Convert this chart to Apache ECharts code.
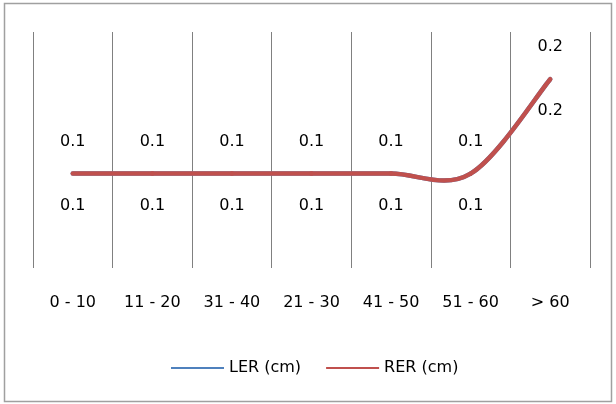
<!DOCTYPE html>
<html>
<head>
<meta charset="utf-8">
<script src="https://cdn.jsdelivr.net/npm/echarts@6/dist/echarts.min.js"></script>
<style>
html,body{margin:0;padding:0;background:#fff;}
#chart{width:616px;height:404px;}
</style>
</head>
<body>
<div id="chart"></div>
<script>
const categories = ['0 - 10', '11 - 20', '31 - 40', '21 - 30', '41 - 50', '51 - 60', '> 60'];
const lerValues = [0.1, 0.1, 0.1, 0.1, 0.1, 0.1, 0.2];
const rerValues = [0.1, 0.1, 0.1, 0.1, 0.1, 0.1, 0.2];
const seriesNames = ['LER (cm)', 'RER (cm)'];
const seriesColors = ['#4F81BD', '#C0504D'];

const font = 'DejaVu Sans';
const chart = echarts.init(document.getElementById('chart'), null, {renderer: 'canvas'});

const labelStyle = {
  show: true,
  fontFamily: font,
  fontSize: 16,
  color: '#000',
  distance: 24,
  formatter: p => p.value.toFixed(1)
};

// Excel-style smoothed curve (Catmull-Rom -> cubic Bezier), drawn through the axes' scales
function smoothRenderer(values, color) {
  return function (params, api) {
    const i = params.dataIndex;
    const n = values.length;
    if (i >= n - 1) return null;
    const pt = k => {
      const j = Math.max(0, Math.min(n - 1, k));
      return api.coord([j, values[j]]);
    };
    const p0 = pt(i - 1), p1 = pt(i), p2 = pt(i + 1), p3 = pt(i + 2);
    return {
      type: 'bezierCurve',
      shape: {
        x1: p1[0], y1: p1[1],
        cpx1: p1[0] + (p2[0] - p0[0]) / 6, cpy1: p1[1] + (p2[1] - p0[1]) / 6,
        cpx2: p2[0] - (p3[0] - p1[0]) / 6, cpy2: p2[1] - (p3[1] - p1[1]) / 6,
        x2: p2[0], y2: p2[1]
      },
      style: {fill: null, stroke: color, lineWidth: 4.5, lineCap: 'round'}
    };
  };
}

function labelSeries(name, values, color, pos) {
  return {
    name: name,
    type: 'line',
    data: values,
    symbol: 'circle',
    symbolSize: 0,
    color: color,
    itemStyle: {color: color},
    lineStyle: {opacity: 0},
    label: Object.assign({position: pos}, labelStyle),
    z: 5
  };
}

function curveSeries(name, values, color, z) {
  return {
    name: name,
    type: 'custom',
    color: color,
    itemStyle: {color: color},
    data: values.map((v, i) => [i, v]),
    renderItem: smoothRenderer(values, color),
    silent: true,
    z: z
  };
}

chart.setOption({
  animation: false,
  backgroundColor: '#fff',
  graphic: [{
    type: 'rect',
    shape: {x: 4.5, y: 3.5, width: 607, height: 398},
    style: {fill: 'none', stroke: '#a0a0a0', lineWidth: 1.5},
    silent: true,
    z: -1
  }],
  grid: {left: 33, right: 26, top: 32, bottom: 136},
  legend: {
    data: seriesNames,
    left: 166,
    top: 355,
    icon: 'rect',
    itemWidth: 53,
    itemHeight: 2,
    itemGap: 25,
    textStyle: {fontFamily: font, fontSize: 16, color: '#000'}
  },
  xAxis: {
    type: 'category',
    data: categories,
    boundaryGap: true,
    axisLine: {show: false},
    axisTick: {show: false},
    axisLabel: {fontFamily: font, fontSize: 16, color: '#000', margin: 27, interval: 0},
    splitLine: {show: true, interval: 0, lineStyle: {color: '#808080', width: 1}}
  },
  yAxis: {
    type: 'value',
    min: 0,
    max: 0.25,
    show: false,
    splitLine: {show: false}
  },
  series: [
    curveSeries(seriesNames[0], lerValues, seriesColors[0], 2),
    curveSeries(seriesNames[1], rerValues, seriesColors[1], 3),
    labelSeries(seriesNames[0], lerValues, seriesColors[0], 'bottom'),
    labelSeries(seriesNames[1], rerValues, seriesColors[1], 'top')
  ]
});
</script>
</body>
</html>
